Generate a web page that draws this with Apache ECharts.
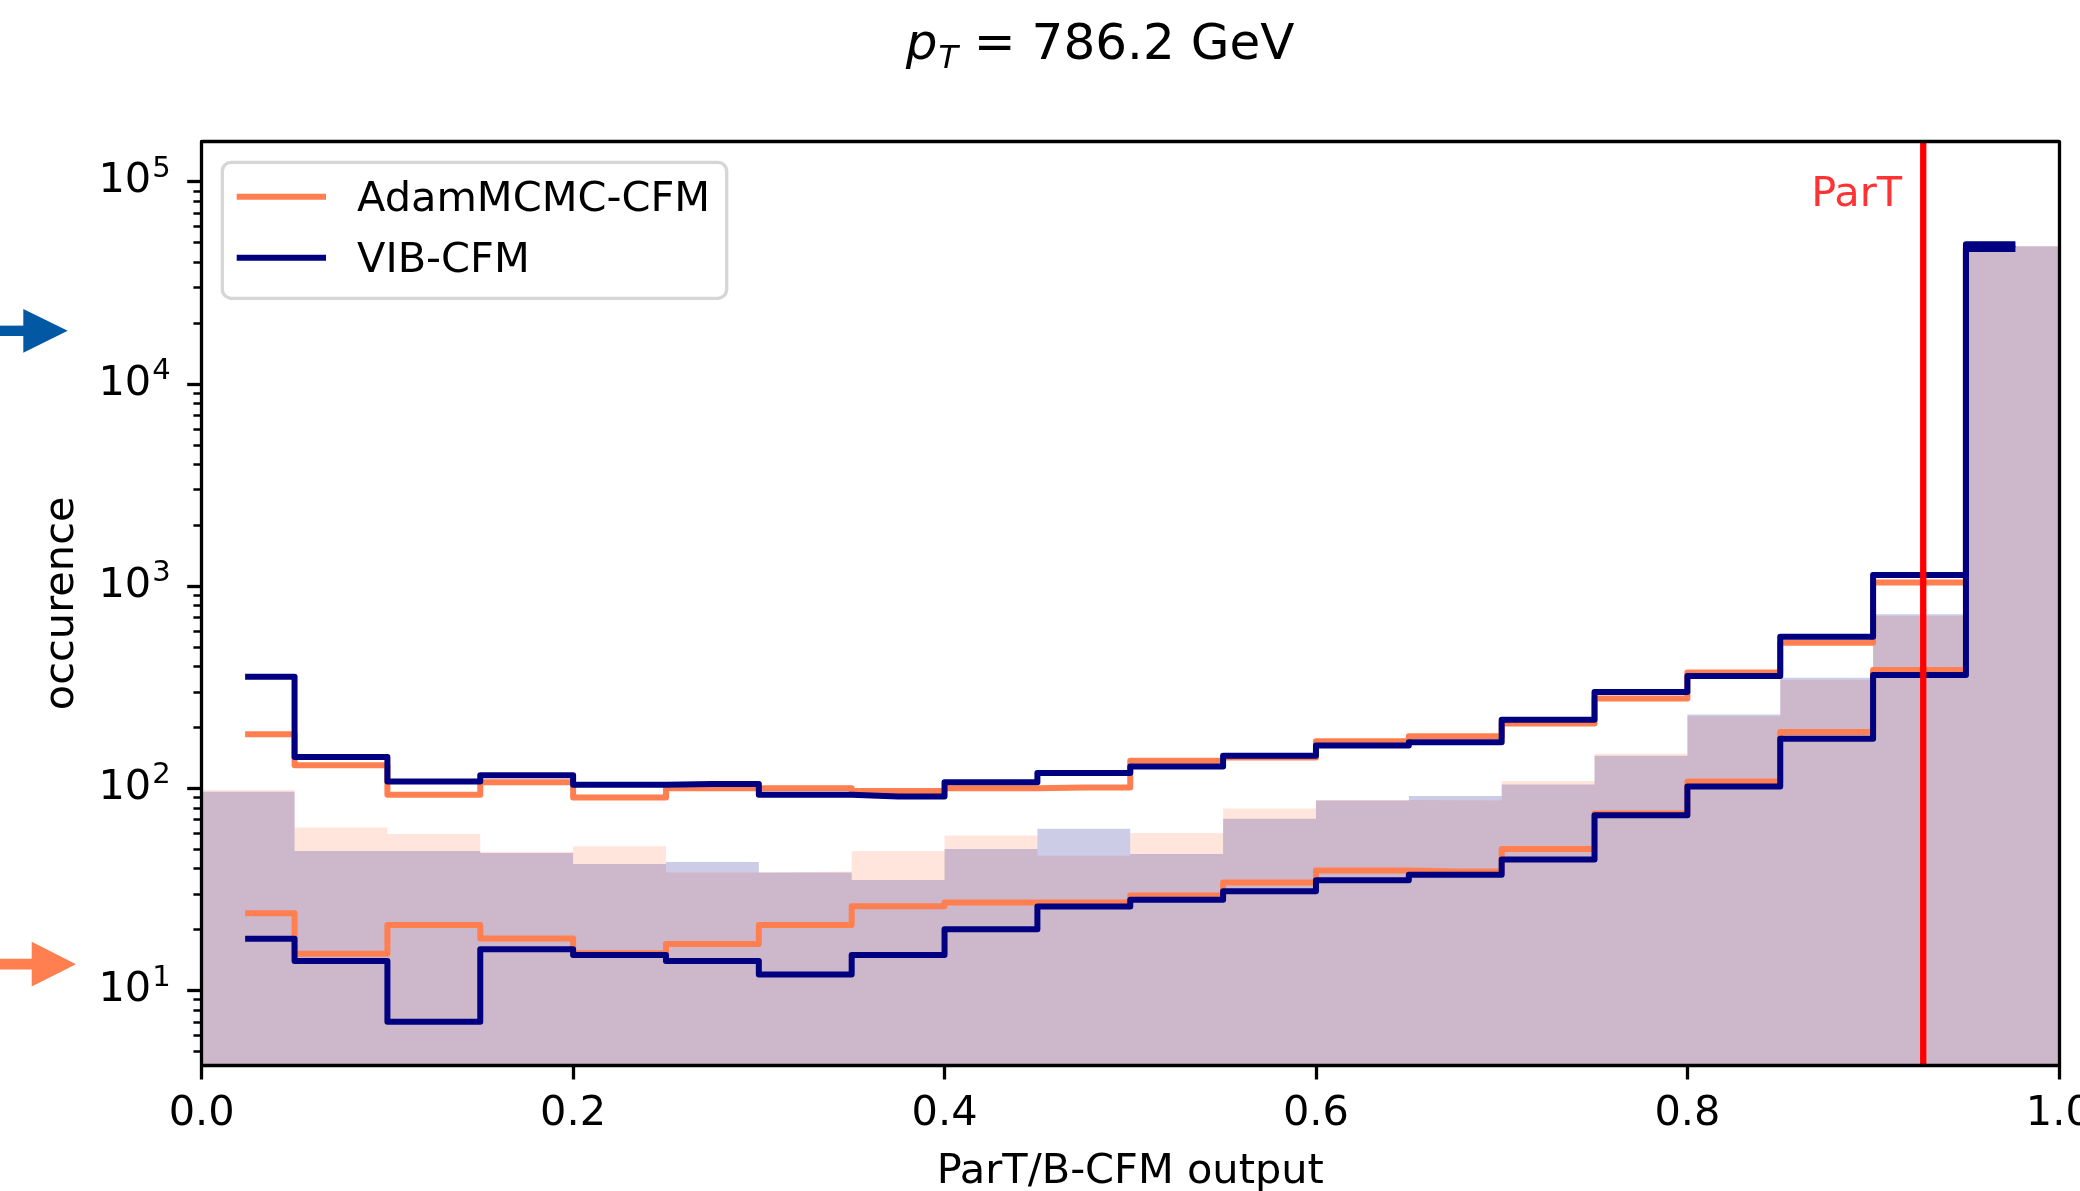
<!DOCTYPE html>
<html><head><meta charset="utf-8">
<script src="https://cdn.jsdelivr.net/npm/echarts@6/dist/echarts.min.js"></script>
<style>html,body{margin:0;padding:0;background:#fff}#c{width:2080px;height:1191px}</style>
</head><body><div id="c"></div>
<script>
// ---- data ----
const binEdges   = [0.00,0.05,0.10,0.15,0.20,0.25,0.30,0.35,0.40,0.45,0.50,0.55,0.60,0.65,0.70,0.75,0.80,0.85,0.90,0.95,1.00];
const binCenters = [0.025,0.075,0.125,0.175,0.225,0.275,0.325,0.375,0.425,0.475,0.525,0.575,0.625,0.675,0.725,0.775,0.825,0.875,0.925,0.975];
const adamUpper = [185,130,93,107,90,100,100,97,100,101,137,142,171,181,209,278,374,524,1042,48500];
const adamLower = [24.1,15.2,21.1,18.1,15.3,17.0,21.1,26.1,27.2,27.2,29.5,34.2,39.2,38.8,50.1,75,108,190,385,46800];
const vibUpper  = [356,143,108,116,104,105,93,91,107,119,128,145,163,169,218,299,359,561,1136,49000];
const vibLower  = [18.0,14.0,7.0,16.0,15.0,14.0,12.0,15.0,20.1,26.0,28.1,31.0,35.1,37.4,44.4,73.5,102,176,363,46500];
const adamFill  = [98,64,59.4,48.6,51.7,38.3,38.8,49,58.4,46.4,60.1,79.4,87.5,87,108.6,148,227,343,711,48000];
const vibFill   = [96,49,49,47.8,42.2,43.2,38.3,35.2,50.1,63,47.3,70.6,86.9,91.7,104.4,145,232,352,726,48000];
const seriesNames = ['AdamMCMC-CFM','VIB-CFM'];
const xTickLabels = ['0.0','0.2','0.4','0.6','0.8','1.0'];
const yMajorTicks = [10,100,1000,10000,100000];
const yMinorTicks = [5,6,7,8,9,20,30,40,50,60,70,80,90,200,300,400,500,600,700,800,900,
                     2000,3000,4000,5000,6000,7000,8000,9000,20000,30000,40000,50000,60000,70000,80000,90000];
const partValue = 0.927;
const partLabelY = 85650;
const arrowBlueValue = 18300;
const arrowOrangeValue = 13.5;
const titleText = '{i|p}{s|T}{n| = 786.2 GeV}';

// ---- styles ----
const FONT = 'DejaVu Sans';
const CORAL = '#ff7f50', NAVY = '#000080';
const Y_MIN = 4.28, Y_MAX = 157700;
const LW = 6.0;

const chart = echarts.init(document.getElementById('c'), null, {renderer: 'canvas'});

function stepFill(vals){ return binEdges.map((e,i)=>[e, vals[Math.min(i, vals.length-1)]]); }
function centerData(vals){ return binCenters.map((c,i)=>[c, vals[i]]); }
function lineSeries(name, vals, color, z){
  return {type:'line', name, data: centerData(vals), step:'middle', showSymbol:false, symbol:'none',
    color, lineStyle:{color, width:LW, join:'round', cap:'square'}, z, silent:true, animation:false};
}

const option = {
  animation:false,
  textStyle:{fontFamily:FONT},
  grid:{left:201.7, right:21.2, top:141.7, bottom:126, containLabel:false, outerBoundsMode:'none'},
  xAxis:[{
    type:'value', min:0, max:1, interval:0.2, z:5,
    axisLine:{show:true, onZero:false, lineStyle:{color:'#000', width:3.3}},
    axisTick:{show:true, length:14.5, lineStyle:{color:'#000', width:3.3}},
    axisLabel:{fontFamily:FONT, fontSize:41.5, color:'#000', margin:24.6, lineHeight:50,
      formatter:(v)=>xTickLabels[Math.round(v/0.2)]},
    splitLine:{show:false},
    name:'ParT/B-CFM output', nameLocation:'middle', nameGap:82,
    nameTextStyle:{fontFamily:FONT, fontSize:41.5, color:'#000', lineHeight:50}
  },{
    type:'value', min:0, max:1, position:'top', z:5,
    axisLine:{show:true, onZero:false, lineStyle:{color:'#000', width:3.3}},
    axisTick:{show:false}, axisLabel:{show:false}, splitLine:{show:false}
  }],
  yAxis:[{
    type:'log', logBase:10, min:Y_MIN, max:Y_MAX, position:'left', z:5,
    axisLine:{show:true, onZero:false, lineStyle:{color:'#000', width:3.3}},
    axisTick:{show:true, length:14.5, customValues:yMajorTicks, lineStyle:{color:'#000', width:3.3}},
    axisLabel:{show:true, customValues:yMajorTicks, margin:31, color:'#000',
      formatter:(v)=>'{b|10}{s|'+Math.round(Math.log10(v))+'}',
      rich:{b:{fontFamily:FONT, fontSize:41.5, color:'#000', verticalAlign:'middle'},
            s:{fontFamily:FONT, fontSize:29, color:'#000', verticalAlign:'middle', padding:[0,0,25,1]}}},
    splitLine:{show:false}, minorTick:{show:false},
    name:'occurence', nameLocation:'middle', nameRotate:90, nameGap:113,
    nameTextStyle:{fontFamily:FONT, fontSize:41.5, color:'#000', lineHeight:50}
  },{
    type:'log', logBase:10, min:Y_MIN, max:Y_MAX, position:'left', z:5,
    axisLine:{show:false},
    axisTick:{show:true, length:8.3, customValues:yMinorTicks, lineStyle:{color:'#000', width:2.5}},
    axisLabel:{show:false}, splitLine:{show:false}
  },{
    type:'log', logBase:10, min:Y_MIN, max:Y_MAX, position:'right', z:5,
    axisLine:{show:true, onZero:false, lineStyle:{color:'#000', width:3.3}},
    axisTick:{show:false}, axisLabel:{show:false}, splitLine:{show:false}
  }],
  series:[
    {type:'line', name:seriesNames[0]+' fill', data:stepFill(adamFill), step:'end', symbol:'none', showSymbol:false,
     lineStyle:{width:0, opacity:0}, areaStyle:{color:CORAL, opacity:0.2, origin:'start'}, z:1, silent:true},
    {type:'line', name:seriesNames[1]+' fill', data:stepFill(vibFill), step:'end', symbol:'none', showSymbol:false,
     lineStyle:{width:0, opacity:0}, areaStyle:{color:NAVY, opacity:0.2, origin:'start'}, z:1, silent:true},
    lineSeries(seriesNames[0], adamUpper, CORAL, 2),
    lineSeries(seriesNames[0], adamLower, CORAL, 2),
    lineSeries(seriesNames[1], vibUpper, NAVY, 3),
    lineSeries(seriesNames[1], vibLower, NAVY, 3),
    {type:'line', name:'ParT line', data:[[partValue, Y_MIN],[partValue, Y_MAX]], symbol:'none', showSymbol:false,
     color:'#ff0000', lineStyle:{color:'#ff0000', width:6.3}, z:4, silent:true},
    {type:'scatter', name:'ParT', data:[[partValue, partLabelY]], symbolSize:0.1, z:4, silent:true,
     itemStyle:{color:'rgba(0,0,0,0)'},
     label:{show:true, position:'left', distance:21, formatter:'ParT', color:'#ff0000',
       fontFamily:FONT, fontSize:41.5}}
  ]
};
chart.setOption(option);

const yB = chart.convertToPixel({yAxisIndex:0}, arrowBlueValue);
const yO = chart.convertToPixel({yAxisIndex:0}, arrowOrangeValue);
const legendColors = [CORAL, NAVY];
const legendEls = [
  {type:'rect', z:10, shape:{x:222.3, y:162.3, width:504.4, height:136, r:9},
   style:{fill:'rgba(255,255,255,0.8)', stroke:'#d6d6d6', lineWidth:3.3}}
];
seriesNames.forEach((nm, i) => {
  const cy = 196.7 + i * 61;
  legendEls.push({type:'line', z:11, shape:{x1:236.7, y1:cy, x2:326, y2:cy},
    style:{stroke:legendColors[i], lineWidth:LW}});
  legendEls.push({type:'text', z:11, x:357, y:cy + 4, style:{text:nm, fontFamily:FONT, fontSize:41.5,
    fill:'#000', align:'left', verticalAlign:'middle'}});
});
chart.setOption({graphic:[
  {type:'rect', shape:{x:0, y:yB-5.2, width:24, height:10.4}, style:{fill:'#0258a2'}},
  {type:'polygon', shape:{points:[[23.3,yB-21.8],[67.7,yB],[23.3,yB+21.8]]}, style:{fill:'#0258a2'}},
  {type:'rect', shape:{x:0, y:yO-5.3, width:32.5, height:10.6}, style:{fill:CORAL}},
  {type:'polygon', shape:{points:[[31.7,yO-22.3],[76,yO],[31.7,yO+22.3]]}, style:{fill:CORAL}},
  {type:'text', x:1100, y:46.2, style:{text:titleText, align:'center', verticalAlign:'middle',
    fontFamily:FONT, fill:'#000',
    rich:{i:{fontFamily:FONT, fontStyle:'italic', fontSize:50, fill:'#000', verticalAlign:'middle'},
          s:{fontFamily:FONT, fontStyle:'italic', fontSize:32, fill:'#000', verticalAlign:'middle', padding:[26,0,0,1]},
          n:{fontFamily:FONT, fontSize:50, fill:'#000', verticalAlign:'middle'}}}}
].concat(legendEls)});
</script></body></html>
